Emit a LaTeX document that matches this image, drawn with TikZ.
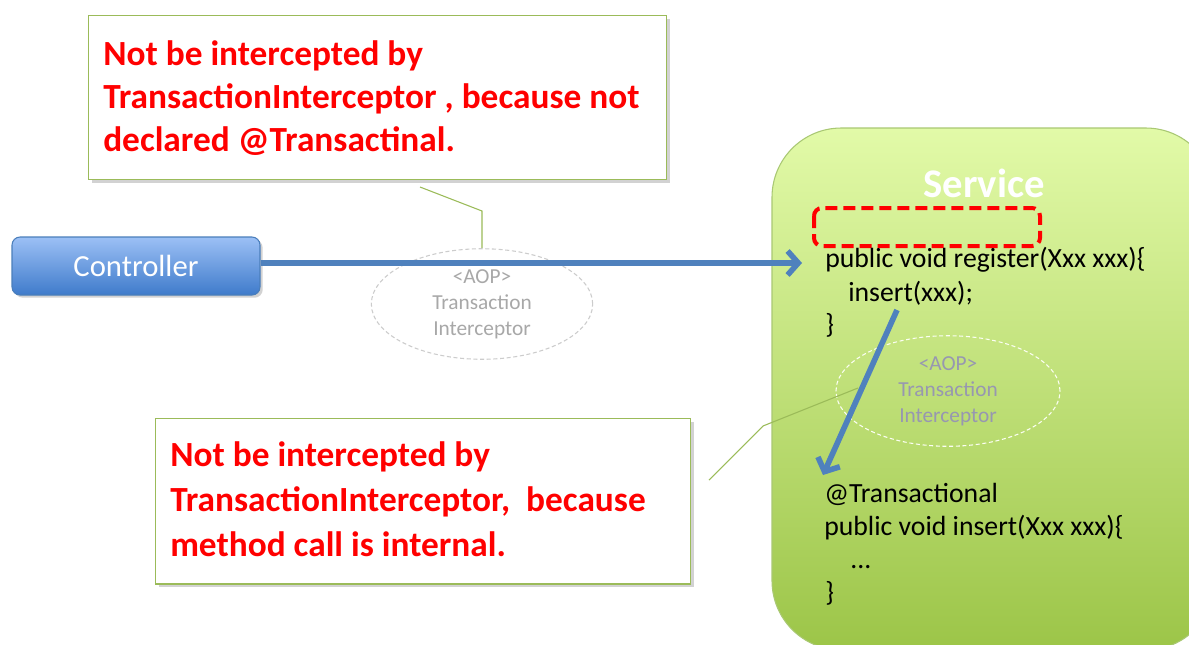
\documentclass[tikz,border=0pt]{standalone}
\usepackage{fontspec}
\setmainfont{Carlito}
\usetikzlibrary{arrows.meta,shadows,shapes.geometric}
\definecolor{calloutgreen}{HTML}{9BBB59}
\definecolor{arrowblue}{HTML}{4F81BD}
\definecolor{ctrltop}{HTML}{9CC0F5}
\definecolor{ctrlbot}{HTML}{3F7BCB}
\definecolor{ctrlborder}{HTML}{4A7EBB}
\definecolor{svctop}{HTML}{E2FAA8}
\definecolor{svcbot}{HTML}{9CC548}
\definecolor{svcborder}{HTML}{A9C873}
\definecolor{aopgray}{HTML}{A8A8A8}
\tikzset{
  callout/.style={draw=calloutgreen, line width=1.1pt, fill=white, anchor=north west,
    drop shadow={opacity=0.35, shadow xshift=2.5pt, shadow yshift=-2.5pt}},
  callouttext/.style={anchor=base west, inner sep=0pt, text=red,
    font=\fontsize{26.5}{32}\selectfont\bfseries},
  pointer/.style={draw=calloutgreen, line width=0.8pt},
  aop/.style={ellipse, draw=#1, dashed, dash pattern=on 3pt off 2pt, line width=0.8pt,
    align=center, text=aopgray, font=\fontsize{16}{19.5}\selectfont},
  codetext/.style={anchor=base west, inner sep=0pt, font=\fontsize{20.8}{24}\selectfont},
  callarrow/.style={draw=arrowblue, line width=4.2pt,
    -{Straight Barb[length=8pt,width=18pt,line width=4.2pt]}},
}
\begin{document}
\begin{tikzpicture}[x=0.75pt,y=-0.75pt]
\useasboundingbox (0,0) rectangle (1189,644);

% Service box
\path[fill=white] (0,0) rectangle (1189,644);
\path[draw=svcborder, line width=0.8pt, rounded corners=52pt,
  top color=svctop, bottom color=svcbot] (772,128) rectangle (1215,650);
\node[font=\fontsize{30.5}{34}\selectfont\bfseries, text=white] (svc) at (984,183) {Service};
\draw[red, line width=3pt, dash pattern=on 9pt off 4.5pt, rounded corners=6pt]
  (814,208) rectangle (1040,246);

% code
\node[codetext] (reg) at (825,267) {public void register(Xxx xxx)\{};
\node[codetext] (ins) at (848,301) {insert(xxx);};
\node[codetext] (rb) at (825,333) {\}};
\node[codetext] (ann) at (824,502) {@Transactional};
\node[codetext] (insm) at (824,535) {public void insert(Xxx xxx)\{};
\node[codetext] (dots) at (850,568) {...};
\node[codetext] (ib) at (825,601) {\}};

% callouts
\node[callout, minimum width=433.5pt, minimum height=123pt] (top) at (88,15) {};
\node[callouttext] (t1) at (103,65) {Not be intercepted by};
\node[callouttext] (t2) at (103,108) {TransactionInterceptor , because not};
\node[callouttext] (t3) at (103,151) {declared @Transactinal.};

\node[callout, minimum width=401pt, minimum height=124pt] (bot) at (155,418) {};
\node[callouttext] (b1) at (170,466) {Not be intercepted by};
\node[callouttext] (b2) at (170,511) {TransactionInterceptor,\ \ because};
\node[callouttext] (b3) at (170,556) {method call is internal.};

% AOP ellipses
\node[aop=black!20, minimum width=166pt, minimum height=80pt] (aop1) at (482,304)
  {<AOP>\\Transaction\\Interceptor};
\node[aop=white!85!svctop, minimum width=168pt, minimum height=82pt, text=aopgray!90!blue] (aop2) at (948,391)
  {<AOP>\\Transaction\\Interceptor};

% Controller
\node[draw=ctrlborder, line width=0.8pt, rounded corners=6pt, top color=ctrltop, bottom color=ctrlbot,
  minimum width=186pt, minimum height=43.5pt, text=white, font=\fontsize{23}{26}\selectfont,
  drop shadow={opacity=0.35, shadow xshift=2pt, shadow yshift=-2pt}] (ctrl) at (136,266) {Controller};

% pointers
\coordinate (p1a) at (420,187);
\coordinate (p1b) at (482,211);
\draw[pointer] (p1a) -- (p1b) -- (aop1.north);
\coordinate (p2a) at (709,480);
\coordinate (p2b) at (763,426);
\coordinate (p2c) at (858,388);
\draw[pointer] (p2a) -- (p2b) -- (p2c);

% arrows
\coordinate (a1end) at (802,263);
\draw[callarrow] (ctrl.east |- a1end) -- (a1end);
\coordinate (a2start) at (897,310);
\coordinate (a2end) at (823,475);
\draw[callarrow] (a2start) -- (a2end);
\end{tikzpicture}
\end{document}
